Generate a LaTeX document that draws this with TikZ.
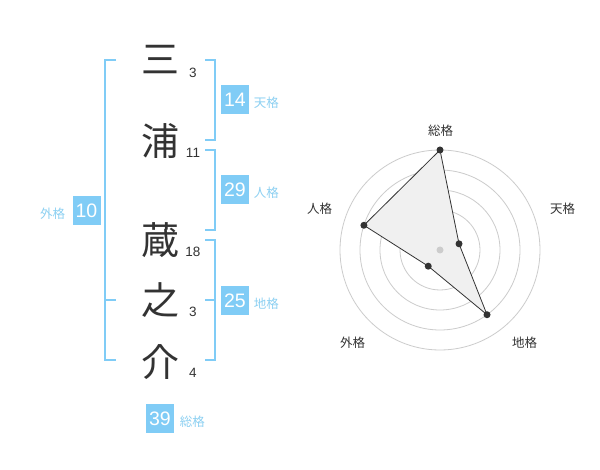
\documentclass[tikz,border=0pt]{standalone}
\usepackage{fontspec}
\setmainfont{Liberation Sans}
\newfontfamily\jpfont{Noto Sans CJK JP}
\definecolor{sky}{HTML}{80CCF6}
\definecolor{skytext}{HTML}{8CD0F2}
\definecolor{ink}{HTML}{333333}
\definecolor{ringgray}{HTML}{CCCCCC}
\definecolor{areafill}{HTML}{F0F0F0}
\begin{document}
\begin{tikzpicture}[x=1pt,y=-1pt,
  bracket/.style={draw=sky, line width=2pt},
  kanji/.style={font=\jpfont\fontsize{38}{38}\selectfont, text=ink, inner sep=0pt, anchor=center},
  strokes/.style={font=\fontsize{13.5}{14}\selectfont, text=ink, inner sep=0pt, anchor=base},
  scorebox/.style={fill=sky, text=white, minimum width=28pt, minimum height=29pt, inner sep=0pt, font=\fontsize{19.5}{20}\selectfont},
  kaku/.style={font=\jpfont\fontsize{12.5}{13}\selectfont, text=skytext, inner sep=0pt},
  axislabel/.style={font=\jpfont\fontsize{12.5}{13}\selectfont, text=ink, inner sep=0pt},
  ring/.style={draw=ringgray, line width=0.8pt},
  dot/.style={circle, fill=ink, inner sep=0pt, minimum size=7pt}]
\useasboundingbox[fill=white] (0,0) rectangle (600,470);

% name characters
\node[kanji] (k1) at (160,60) {三};
\node[kanji] (k2) at (160,141) {浦};
\node[kanji] (k3) at (160,240) {蔵};
\node[kanji] (k4) at (160,300) {之};
\node[kanji] (k5) at (160,362) {介};

% stroke counts
\node[strokes] (s1) at (193,77.5) {3};
\node[strokes] (s2) at (193,158) {11};
\node[strokes] (s3) at (193,257) {18};
\node[strokes] (s4) at (193,317) {3};
\node[strokes] (s5) at (193,377.5) {4};

% brackets
\draw[bracket] (116,60) -- (105,60) -- (105,360) -- (116,360);
\draw[bracket] (105,300) -- (116,300);
\draw[bracket] (205,60) -- (215,60) -- (215,140) -- (205,140);
\draw[bracket] (205,150) -- (215,150) -- (215,230) -- (205,230);
\draw[bracket] (205,240) -- (215,240) -- (215,360) -- (205,360);
\draw[bracket] (205,300) -- (215,300);

% score boxes
\node[scorebox] (b14) at (235,100) {14};
\node[kaku, anchor=west] (l14) at ([xshift=4.5pt,yshift=-3pt]b14.east) {天格};
\node[scorebox] (b29) at (235,190) {29};
\node[kaku, anchor=west] (l29) at ([xshift=4.5pt,yshift=-3pt]b29.east) {人格};
\node[scorebox] (b10) at (86.5,210.5) {10};
\node[kaku, anchor=east] (l10) at ([xshift=-7pt,yshift=-3pt]b10.west) {外格};
\node[scorebox] (b25) at (235,300.5) {25};
\node[kaku, anchor=west] (l25) at ([xshift=4.5pt,yshift=-3pt]b25.east) {地格};
\node[scorebox] (b39) at (160,418.5) {39};
\node[kaku, anchor=west] (l39) at ([xshift=5.5pt,yshift=-3pt]b39.east) {総格};

% radar chart
\coordinate (c) at (440,250);
\foreach \r in {20,40,60,80,100} \draw[ring] (c) circle (\r pt);
\coordinate (pS) at (440,150);
\coordinate (pT) at (459.02,243.82);
\coordinate (pC) at (487.02,314.72);
\coordinate (pG) at (428.24,266.18);
\coordinate (pJ) at (363.92,225.28);
\draw[fill=areafill, draw=ink, line width=0.8pt, line join=round] (pS) -- (pT) -- (pC) -- (pG) -- (pJ) -- cycle;
\node[circle, fill=ringgray, inner sep=0pt, minimum size=7pt] (cd) at (c) {};
\node[dot] (dS) at (pS) {};
\node[dot] (dT) at (pT) {};
\node[dot] (dC) at (pC) {};
\node[dot] (dG) at (pG) {};
\node[dot] (dJ) at (pJ) {};

\node[axislabel] (aS) at (440.5,130.5) {総格};
\node[axislabel] (aT) at (562.5,209) {天格};
\node[axislabel] (aC) at (524.5,343) {地格};
\node[axislabel] (aG) at (352.5,343) {外格};
\node[axislabel] (aJ) at (319.5,209) {人格};
\end{tikzpicture}
\end{document}
